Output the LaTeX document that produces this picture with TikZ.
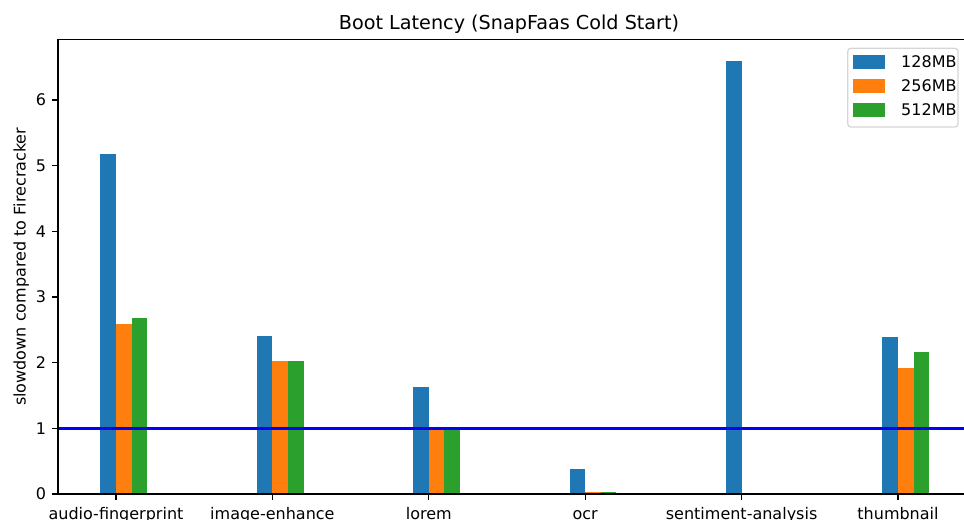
\documentclass[tikz,border=0pt]{standalone}
\usepackage{fontspec}
\setmainfont{DejaVu Sans}
\usepackage{tikz}

\definecolor{tabblue}{HTML}{1F77B4}
\definecolor{taborange}{HTML}{FF7F0E}
\definecolor{tabgreen}{HTML}{2CA02C}
\definecolor{legendedge}{gray}{0.84}

\tikzset{
  spine/.style = {line width=0.96pt, black},
  refline/.style = {line width=1.8pt, blue},
  legendbox/.style = {draw=legendedge, fill=white, line width=0.96pt, rounded corners=2.25pt}
}

\begin{document}
\begin{tikzpicture}[x=117.3pt, y=49.25pt, font=\fontsize{12}{14}\selectfont]
        \useasboundingbox (-0.7417,-0.3959) rectangle (5.4220,7.5228);
        \clip (-0.7417,-0.3959) rectangle (5.4220,7.5228);

        % bars: 128MB, 256MB, 512MB
        \foreach \name/\a/\b/\c [count=\i from 0] in {audio-fingerprint/5.17/2.59/2.68, image-enhance/2.41/2.03/2.03, lorem/1.63/1.00/1.00, ocr/0.38/0.035/0.035, sentiment-analysis/6.59/0/0, thumbnail/2.39/1.92/2.16}{
            \fill[tabblue] (\i-0.1,0) rectangle (\i,\a);
            \fill[taborange] (\i,0) rectangle (\i+0.1,\b);
            \fill[tabgreen] (\i+0.1,0) rectangle (\i+0.2,\c);
            \draw[spine] (\i,0) -- ++(0,-4.2pt) node[below=5pt, inner sep=0, text height=9.1pt] (xt\i) {\name};
        }

        \foreach \v in {0,...,6}
            \draw[spine] (-0.3708,\v) -- ++(-4.2pt,0) node[left=4.2pt, inner sep=0] (yt\v) {\v};

        \draw[refline] (-0.3708,1) -- (5.465,1);
        \draw[spine] (5.465,6.92) -- (-0.3708,6.92) -- (-0.3708,0) -- (5.465,0);

        \node[font=\fontsize{14.4}{17}\selectfont, anchor=base, yshift=7.2pt] (title) at (2.513,6.92) {Boot Latency (SnapFaas Cold Start)};
        \node[rotate=90, anchor=base] (ylab) at (-0.5786,3.46) {slowdown compared to Firecracker};

        % legend
        \draw[legendbox] (4.679,5.589) rectangle (5.384,6.787);
        \foreach \col/\lab/\yy in {tabblue/128MB/6.579, taborange/256MB/6.213, tabgreen/512MB/5.848}{
            \fill[\col] (4.711,\yy) ++(0,-5.6pt) rectangle ++(0.205,11.2pt);
            \node[anchor=west, inner sep=0] (lg\lab) at (5.019,\yy) {\lab};
        }
\end{tikzpicture}
\end{document}
